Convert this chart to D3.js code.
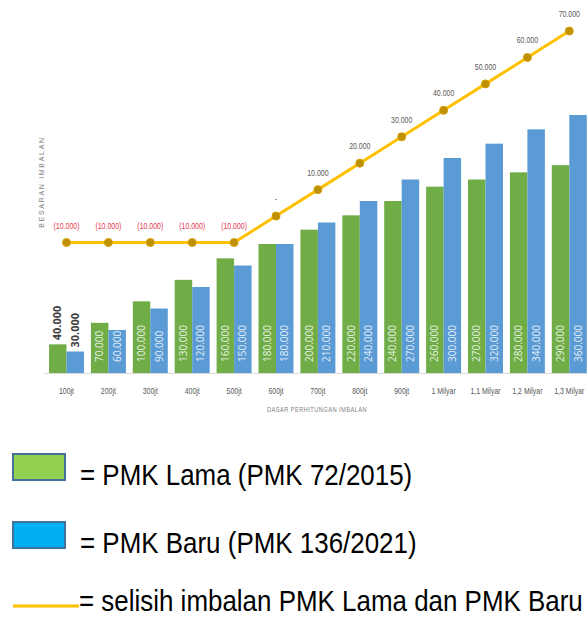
<!DOCTYPE html>
<html>
<head>
<meta charset="utf-8">
<script src="https://cdn.jsdelivr.net/npm/d3@7"></script>
<style>
  body { margin: 0; background: #fff; }
  svg { display: block; }
</style>
</head>
<body>
<div id="chart"></div>
<script>
//data
var categories = ['100jt', '200jt', '300jt', '400jt', '500jt', '600jt', '700jt', '800jt', '900jt', '1 Milyar', '1,1 Milyar', '1,2 Milyar', '1,3 Milyar'];
var lamaValues = [40000, 70000, 100000, 130000, 160000, 180000, 200000, 220000, 240000, 260000, 270000, 280000, 290000];
var baruValues = [30000, 60000, 90000, 120000, 150000, 180000, 210000, 240000, 270000, 300000, 320000, 340000, 360000];
var selisihValues = [-10000, -10000, -10000, -10000, -10000, 0, 10000, 20000, 30000, 40000, 50000, 60000, 70000];
var seriesKeys = ['lama', 'baru'];
var legendLabels = ['= PMK Lama (PMK 72/2015)', '= PMK Baru (PMK 136/2021)', '= selisih imbalan PMK Lama dan PMK Baru'];

//sizes
var W = 587,
    H = 619,
    baseY = 373,
    narrow = 0.82,
    legendNarrow = 0.865;

//colors
var barColors = { lama: '#70ad47', baru: '#5b9bd5' };
var legendColors = { lama: '#92d050', baru: '#00b0f0' };
var lineColor = '#ffc000',
    markerColor = '#bf9000';

var rows = categories.map(function(c, i) {
    return { cat: c, lama: lamaValues[i], baru: baruValues[i], selisih: selisihValues[i] };
});

function fmt(v) {
    if (v === 0) return '-';
    var s = d3.format(',')(Math.abs(v)).replace(/,/g, '.');
    return v < 0 ? '(' + s + ')' : s;
}

//narrow text: liberation sans squeezed sideways, like arial narrow
function narrowAt(x, y, k) {
    return 'translate(' + x + ',' + y + ') scale(' + (k || narrow) + ',1)';
}

var svg = d3.select('#chart').append('svg')
    .attr('width', W)
    .attr('height', H);

//scales
var x0 = d3.scaleBand()
    .domain(categories)
    .range([45.55, 590.25])
    .paddingInner(0.165)
    .paddingOuter(0.0825);

var x1 = d3.scaleBand()
    .domain(seriesKeys)
    .range([0, x0.bandwidth()]);

var yBar = d3.scaleLinear()
    .domain([0, 360000])
    .range([baseY, 115]);

var yLine = d3.scaleLinear()
    .domain([-10000, 70000])
    .range([242.5, 31]);

//axis line
svg.append('line')
    .attr('x1', 44).attr('x2', W)
    .attr('y1', baseY + 0.5).attr('y2', baseY + 0.5)
    .attr('stroke', '#d9d9d9')
    .attr('stroke-width', 1);

//bars
var groups = svg.append('g').selectAll('g')
    .data(rows)
    .enter().append('g')
    .attr('transform', function(d) { return 'translate(' + x0(d.cat) + ',0)'; });

var bars = groups.selectAll('g')
    .data(function(d) {
        return seriesKeys.map(function(k) { return { key: k, value: d[k] }; });
    })
    .enter().append('g');

bars.append('rect')
    .attr('x', function(d) { return x1(d.key); })
    .attr('width', x1.bandwidth())
    .attr('y', function(d) { return yBar(d.value); })
    .attr('height', function(d) { return baseY - yBar(d.value); })
    .attr('fill', function(d) { return barColors[d.key]; });

//value labels, inside base or outside end when the bar is short
function isInside(d) { return baseY - yBar(d.value) > 35; }

bars.append('text')
    .attr('transform', function(d) {
        var cx = x1(d.key) + x1.bandwidth() / 2;
        var y = isInside(d) ? baseY - 11 : yBar(d.value) - 4;
        return 'translate(' + (cx + 3.5) + ',' + y + ') rotate(-90)';
    })
    .attr('font-family', 'Open Sans, sans-serif')
    .attr('font-size', function(d) { return isInside(d) ? 10 : 11; })
    .attr('font-weight', function(d) { return isInside(d) ? 'normal' : 'bold'; })
    .attr('fill', function(d) { return isInside(d) ? '#fff' : '#404040'; })
    .attr('fill-opacity', function(d) { return isInside(d) ? 0.85 : 1; })
    .text(function(d) { return fmt(d.value); });

//category labels
svg.append('g').selectAll('text')
    .data(categories)
    .enter().append('text')
    .attr('transform', function(d) { return narrowAt(x0(d) + x0.bandwidth() / 2, 394); })
    .attr('text-anchor', 'middle')
    .attr('font-family', 'Liberation Sans, sans-serif')
    .attr('font-size', 8.5)
    .attr('fill', '#595959')
    .text(function(d) { return d; });

//axis titles
svg.append('text')
    .attr('transform', narrowAt(317, 412))
    .attr('text-anchor', 'middle')
    .attr('font-family', 'Liberation Sans, sans-serif')
    .attr('font-size', 7)
    .attr('letter-spacing', 0.5)
    .attr('fill', '#7f7f7f')
    .text('DASAR PERHITUNGAN IMBALAN');

svg.append('text')
    .attr('transform', 'translate(44,182) rotate(-90)')
    .attr('text-anchor', 'middle')
    .attr('font-family', 'Liberation Sans, sans-serif')
    .attr('font-size', 7)
    .attr('letter-spacing', 1.7)
    .attr('fill', '#7f7f7f')
    .text('BESARAN IMBALAN');

//selisih line
var line = d3.line()
    .x(function(d) { return x0(d.cat) + x0.bandwidth() / 2; })
    .y(function(d) { return yLine(d.selisih); });

svg.append('path')
    .datum(rows)
    .attr('d', line)
    .attr('fill', 'none')
    .attr('stroke', lineColor)
    .attr('stroke-width', 3);

svg.append('g').selectAll('circle')
    .data(rows)
    .enter().append('circle')
    .attr('cx', function(d) { return x0(d.cat) + x0.bandwidth() / 2; })
    .attr('cy', function(d) { return yLine(d.selisih); })
    .attr('r', 4)
    .attr('fill', markerColor)
    .attr('stroke', '#d4a000')
    .attr('stroke-width', 1);

svg.append('g').selectAll('text')
    .data(rows)
    .enter().append('text')
    .attr('transform', function(d) { return narrowAt(x0(d.cat) + x0.bandwidth() / 2, yLine(d.selisih) - 14); })
    .attr('text-anchor', 'middle')
    .attr('font-family', 'Liberation Sans, sans-serif')
    .attr('font-size', 8.5)
    .attr('fill', function(d) { return d.selisih < 0 ? '#e8384f' : '#595959'; })
    .text(function(d) { return fmt(d.selisih); });

//legend
var legendRows = [
    { type: 'rect', color: legendColors.lama, label: legendLabels[0], y: 454 },
    { type: 'rect', color: legendColors.baru, label: legendLabels[1], y: 522 },
    { type: 'line', color: lineColor, label: legendLabels[2], y: 590 }
];

legendRows.forEach(function(r) {
    if (r.type === 'rect') {
        svg.append('rect')
            .attr('x', 13).attr('y', r.y)
            .attr('width', 52).attr('height', 26)
            .attr('fill', r.color)
            .attr('stroke', '#41719c')
            .attr('stroke-width', 2);
        svg.append('text')
            .attr('transform', narrowAt(80, r.y + 31, legendNarrow))
            .attr('font-family', 'Liberation Sans, sans-serif')
            .attr('font-size', 30)
            .attr('fill', '#000')
            .text(r.label);
    } else {
        svg.append('line')
            .attr('x1', 13).attr('x2', 79)
            .attr('y1', r.y + 16).attr('y2', r.y + 16)
            .attr('stroke', r.color)
            .attr('stroke-width', 3);
        svg.append('text')
            .attr('transform', narrowAt(79, r.y + 21, legendNarrow))
            .attr('font-family', 'Liberation Sans, sans-serif')
            .attr('font-size', 30)
            .attr('fill', '#000')
            .text(r.label);
    }
});
</script>
</body>
</html>
